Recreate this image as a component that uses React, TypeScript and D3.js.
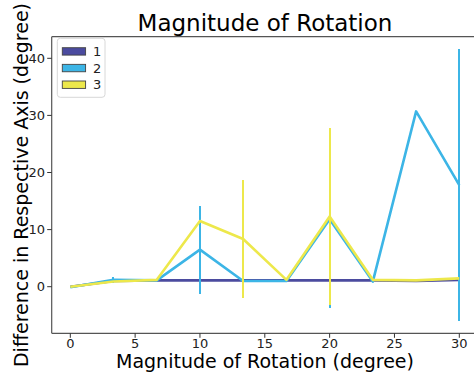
import React from "react";
import * as d3 from "d3";

// Rotation magnitudes sampled (degrees)
const rotations = [0, 3.33, 6.67, 10, 13.33, 16.67, 20, 23.33, 26.67, 30];

// Mean difference per axis setting
const series1 = [0, 1.0, 1.1, 1.1, 1.1, 1.1, 1.1, 1.1, 1.0, 1.2];
const series2 = [-0.1, 1.2, 1.1, 6.5, 1.0, 1.0, 11.8, 0.9, 30.7, 17.8];
const series3 = [0, 0.9, 1.2, 11.5, 8.35, 1.2, 12.3, 1.2, 1.1, 1.45];

// Spread (half-length of error bars)
const err1 = [0, 0, 0, 0, 0, 0, 0, 0, 0, 0];
const err2 = [0, 0.5, 0, 7.7, 0, 0, 15.5, 0, 0, 23.8];
const err3 = [0, 0, 0, 0, 10.4, 0, 15.5, 0, 0, 0];

const seriesNames = ["1", "2", "3"];
const xTicks = [0, 5, 10, 15, 20, 25, 30];
const yTicks = [0, 10, 20, 30, 40];

const colors = ["#4b4b9f", "#3cb5e6", "#ede84b"];

const W = 474;
const H = 377;

export default function App() {
  const x = d3.scaleLinear().domain([0, 30]).range([70.3, 459.3]);
  const y = d3.scaleLinear().domain([0, 40]).range([286.7, 58.3]);

  const left = 51.7;
  const top = 36.7;
  const bottom = 333.3;
  const right = x(31.5);

  const line = d3
    .line<number>()
    .x((_, i) => x(rotations[i]))
    .y((d) => y(d));

  const all = [
    { vals: series1, errs: err1 },
    { vals: series2, errs: err2 },
    { vals: series3, errs: err3 },
  ];

  const font = "'DejaVu Sans', sans-serif";

  return (
    <svg
      width={W}
      height={H}
      style={{ position: "fixed", left: 0, top: 0, background: "#fff" }}
      fontFamily={font}
    >
      <rect x={0} y={0} width={W} height={H} fill="#fff" />
      <defs>
        <clipPath id="plot">
          <rect x={left} y={top} width={right - left} height={bottom - top} />
        </clipPath>
      </defs>

      {/* data lines and error bars */}
      <g clipPath="url(#plot)">
        {all.map((s, k) => (
          <g key={k}>
            <path
              d={line(s.vals) || ""}
              fill="none"
              stroke={colors[k]}
              strokeWidth={2.6}
              strokeLinejoin="round"
            />
            {s.vals.map((v, i) =>
              s.errs[i] > 0 ? (
                <line
                  key={i}
                  x1={Math.round(x(rotations[i]))}
                  x2={Math.round(x(rotations[i]))}
                  y1={y(v - s.errs[i])}
                  y2={y(v + s.errs[i])}
                  stroke={colors[k]}
                  strokeWidth={2}
                  shapeRendering="crispEdges"
                />
              ) : null
            )}
          </g>
        ))}
      </g>

      {/* frame */}
      <line x1={left} x2={left} y1={top} y2={bottom} stroke="#555" strokeWidth={1.2} />
      <line x1={left} x2={W} y1={bottom} y2={bottom} stroke="#555" strokeWidth={1.2} />
      <line x1={left} x2={W} y1={top} y2={top} stroke="#555" strokeWidth={1.2} />

      {/* x ticks */}
      {xTicks.map((t) => (
        <g key={t}>
          <line x1={x(t)} x2={x(t)} y1={bottom} y2={bottom + 4.5} stroke="#333" strokeWidth={1} />
          <text x={x(t)} y={348} textAnchor="middle" fontSize={13} fill="#222">
            {t}
          </text>
        </g>
      ))}

      {/* y ticks */}
      {yTicks.map((t) => (
        <g key={t}>
          <line x1={left - 4.5} x2={left} y1={y(t)} y2={y(t)} stroke="#333" strokeWidth={1} />
          <text x={45} y={y(t) + 4.7} textAnchor="end" fontSize={13} fill="#222">
            {t}
          </text>
        </g>
      ))}

      {/* titles */}
      <text x={265} y={31} textAnchor="middle" fontSize={23} fill="#000">
        Magnitude of Rotation
      </text>
      <text x={265} y={368} textAnchor="middle" fontSize={19} fill="#000">
        Magnitude of Rotation (degree)
      </text>
      <text
        transform={`translate(28,${(top + bottom) / 2}) rotate(-90)`}
        textAnchor="middle"
        fontSize={19}
        fill="#000"
      >
        Difference in Respective Axis (degree)
      </text>

      {/* legend */}
      <rect
        x={57.3}
        y={38.3}
        width={47.7}
        height={59}
        rx={3}
        fill="#fff"
        fillOpacity={0.8}
        stroke="#d8d8d8"
        strokeWidth={1}
      />
      {seriesNames.map((n, i) => (
        <g key={n}>
          <rect
            x={62.3}
            y={47.7 + i * 16.65}
            width={23.3}
            height={7.4}
            fill={colors[i]}
            stroke="#444"
            strokeWidth={0.9}
          />
          <text x={93} y={56 + i * 16.65} fontSize={13} fill="#222">
            {n}
          </text>
        </g>
      ))}
    </svg>
  );
}
